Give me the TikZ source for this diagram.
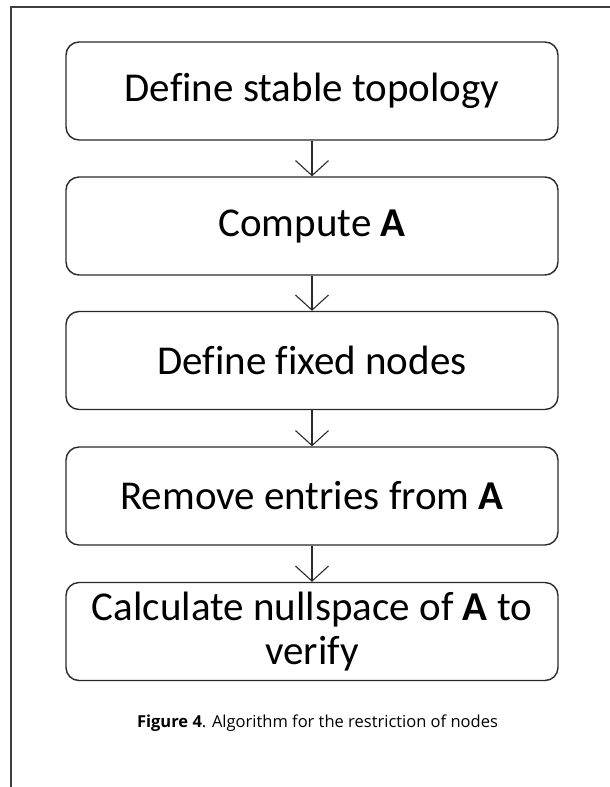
\documentclass[tikz,border=0pt]{standalone}
\usepackage{fontspec}
\setmainfont{Carlito}[Ligatures={NoCommon}]
\newfontfamily\capfont{Open Sans}
\usetikzlibrary{arrows.meta}
\definecolor{edge}{HTML}{2A2A2A}
\tikzset{
  stepbox/.style={draw=edge, line width=1.4pt, rounded corners=13pt,
    minimum width=492pt, minimum height=98pt, inner sep=0pt,
    align=center, font=\fontsize{41}{44}\selectfont, text=black},
  flow/.style={draw=edge, line width=1.1pt,
    -{Straight Barb[length=15pt,width=33pt,line width=1.1pt]}},
  frameline/.style={draw=edge!90, line width=1.6pt}
}
\begin{document}
\begin{tikzpicture}[x=1pt,y=-1pt]
\useasboundingbox (0,0) rectangle (610,787);
\draw[frameline] (610,7) -- (11,7) -- (11,787);
\node[stepbox] (s1) at (312,91) {Define stable topology};
\node[stepbox] (s2) at (312,226) {Compute \textbf{A}};
\node[stepbox] (s3) at (312,360.5) {Define fixed nodes};
\node[stepbox] (s4) at (312,496) {Remove entries from \textbf{A}};
\node[stepbox] (s5) at (312,631.5) {Calculate nullspace of \textbf{A} to\\verify};
\draw[flow] (s1) -- (s2);
\draw[flow] (s2) -- (s3);
\draw[flow] (s3) -- (s4);
\draw[flow] (s4) -- (s5);
\node[font=\capfont\fontsize{16.5}{19}\selectfont, text=black] (cap) at (317.5,723)
  {\textbf{Figure 4}. Algorithm for the restriction of nodes};
\end{tikzpicture}
\end{document}
